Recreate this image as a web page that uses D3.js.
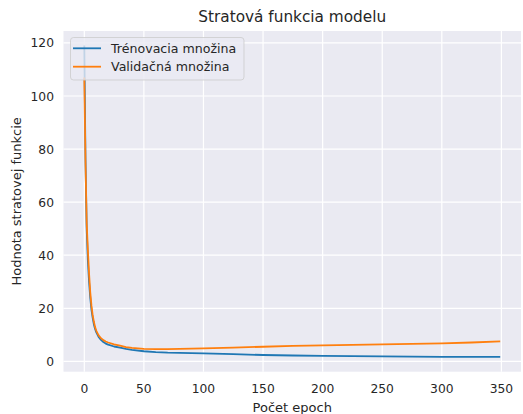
<!DOCTYPE html>
<html>
<head>
<meta charset="utf-8">
<script src="https://cdn.jsdelivr.net/npm/d3@7"></script>
<style>
  body { margin: 0; background: #fff; }
  svg text { font-family: "DejaVu Sans", sans-serif; fill: #262626; }
</style>
</head>
<body>
<script>
// data
var epochs = [0,1,2,3,4,5,6,7,8,9,10,12,14,16,18,20,25,30,35,40,50,60,70,80,100,125,150,175,200,225,250,275,300,325,349];
var trainLoss = [119,76,50,38,30,24,19.5,16.5,14,12.3,11,9.2,8.1,7.3,6.7,6.3,5.6,5.2,4.7,4.3,3.8,3.5,3.3,3.2,3.0,2.7,2.4,2.2,2.1,2.0,1.9,1.8,1.7,1.7,1.7];
var valLoss = [107,75,52,42,33,26,21,17.5,15,13,11.6,9.8,8.7,8.0,7.5,7.1,6.4,5.9,5.4,5.1,4.7,4.6,4.6,4.7,4.9,5.2,5.5,5.8,6.0,6.2,6.4,6.6,6.8,7.1,7.5];
var xTicks = [0,50,100,150,200,250,300,350];
var yTicks = [0,20,40,60,80,100,120];
var seriesNames = ["Trénovacia množina", "Validačná množina"];
var seriesColors = ["#1f77b4", "#ff7f0e"];

var width = 523, height = 414;
var plotL = 63.5, plotR = 521, plotT = 31, plotB = 371.7;

var svg = d3.select("body").append("svg")
    .attr("width", width)
    .attr("height", height);

var x = d3.scaleLinear().domain([-17.45, 366.45]).range([plotL, plotR]);
var y = d3.scaleLinear().domain([-3.9, 124.5]).range([plotB, plotT]);

// axes background
svg.append("rect")
    .attr("x", plotL).attr("y", plotT)
    .attr("width", plotR - plotL).attr("height", plotB - plotT)
    .attr("fill", "#eaeaf2");

// grid
svg.selectAll("line.gx").data(xTicks).enter().append("line")
    .attr("class", "gx")
    .attr("x1", d => x(d)).attr("x2", d => x(d))
    .attr("y1", plotT).attr("y2", plotB)
    .attr("stroke", "#fff").attr("stroke-width", 1.2);
svg.selectAll("line.gy").data(yTicks).enter().append("line")
    .attr("class", "gy")
    .attr("y1", d => y(d)).attr("y2", d => y(d))
    .attr("x1", plotL).attr("x2", plotR)
    .attr("stroke", "#fff").attr("stroke-width", 1.2);

// tick labels
svg.selectAll("text.tx").data(xTicks).enter().append("text")
    .attr("class", "tx")
    .attr("x", d => x(d)).attr("y", 392.5)
    .attr("text-anchor", "middle")
    .attr("font-size", 12.3)
    .text(d => d);
svg.selectAll("text.ty").data(yTicks).enter().append("text")
    .attr("class", "ty")
    .attr("x", 54).attr("y", d => y(d) + 4.5)
    .attr("text-anchor", "end")
    .attr("font-size", 12.3)
    .text(d => d);

// lines
var line = d3.line()
    .x((d, i) => x(epochs[i]))
    .y(d => y(d));

[trainLoss, valLoss].forEach(function(s, i) {
  svg.append("path")
      .attr("d", line(s))
      .attr("fill", "none")
      .attr("stroke", seriesColors[i])
      .attr("stroke-width", 1.8)
      .attr("stroke-linejoin", "round");
});

// labels
svg.append("text")
    .attr("x", (plotL + plotR) / 2).attr("y", 22)
    .attr("text-anchor", "middle")
    .attr("font-size", 15.3)
    .text("Stratová funkcia modelu");
svg.append("text")
    .attr("x", (plotL + plotR) / 2).attr("y", 411.5)
    .attr("text-anchor", "middle")
    .attr("font-size", 13)
    .text("Počet epoch");
svg.append("text")
    .attr("transform", "translate(21," + ((plotT + plotB) / 2) + ") rotate(-90)")
    .attr("text-anchor", "middle")
    .attr("font-size", 13)
    .text("Hodnota stratovej funkcie");

// legend
var legend = svg.append("g");
legend.append("rect")
    .attr("x", 70.5).attr("y", 37.5)
    .attr("width", 173.5).attr("height", 42.5)
    .attr("rx", 3)
    .attr("fill", "#eaeaf2").attr("fill-opacity", 0.8)
    .attr("stroke", "#cccccc").attr("stroke-opacity", 0.8);
seriesNames.forEach(function(name, i) {
  var ly = 48.3 + i * 18.4;
  legend.append("line")
      .attr("x1", 73).attr("x2", 101)
      .attr("y1", ly).attr("y2", ly)
      .attr("stroke", seriesColors[i]).attr("stroke-width", 1.8);
  legend.append("text")
      .attr("x", 111).attr("y", ly + 4.5)
      .attr("font-size", 12.6)
      .text(name);
});
</script>
</body>
</html>
